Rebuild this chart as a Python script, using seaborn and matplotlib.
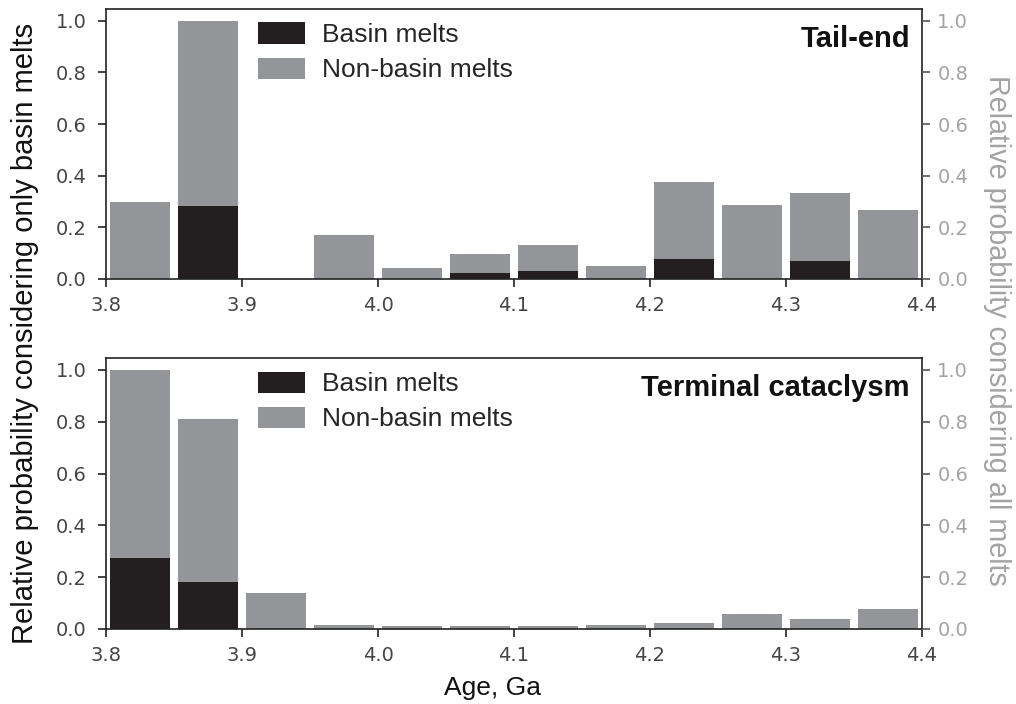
import matplotlib
matplotlib.use("Agg")
import matplotlib.pyplot as plt
import seaborn as sns
import pandas as pd
from matplotlib.patches import Patch

# ---- data ----
ages = [3.825, 3.875, 3.925, 3.975, 4.025, 4.075, 4.125, 4.175, 4.225, 4.275, 4.325, 4.375]
tail_all = [0.30, 1.00, 0.0, 0.172, 0.043, 0.097, 0.130, 0.049, 0.375, 0.286, 0.335, 0.267]
tail_basin = [0.0, 0.281, 0.0, 0.0, 0.0, 0.022, 0.030, 0.0, 0.077, 0.0, 0.068, 0.0]
term_all = [1.00, 0.811, 0.139, 0.017, 0.010, 0.010, 0.010, 0.017, 0.024, 0.058, 0.037, 0.078]
term_basin = [0.275, 0.180, 0.0, 0.0, 0.0, 0.0, 0.0, 0.0, 0.0, 0.0, 0.0, 0.0]
panel_titles = ["Tail-end", "Terminal cataclysm"]
legend_labels = ["Basin melts", "Non-basin melts"]
xticks = [3.8, 3.9, 4.0, 4.1, 4.2, 4.3, 4.4]
yticks = [0.0, 0.2, 0.4, 0.6, 0.8, 1.0]

sns.set_theme(style="ticks")
plt.rcParams["font.family"] = ["DejaVu Sans"]
SANS = "Liberation Sans"

GRAY = "#939598"
BLACK = "#231f20"
TICKC = "#454545"
RTICKC = "#a3a3a3"

fig = plt.figure(figsize=(10.16, 7.04), dpi=100)
left = 106 / 1016
width = (922 - 106) / 1016
ax_top = fig.add_axes([left, 1 - 279 / 704, width, (279 - 9) / 704])
ax_bot = fig.add_axes([left, 1 - 629 / 704, width, (629 - 358) / 704])

panels = [(ax_top, tail_all, tail_basin, panel_titles[0]),
          (ax_bot, term_all, term_basin, panel_titles[1])]

for ax, allv, basv, title in panels:
    df = pd.DataFrame({"age": ages, "all": allv, "basin": basv})
    sns.barplot(data=df, x="age", y="all", native_scale=True, width=0.89,
                color=GRAY, saturation=1, errorbar=None, ax=ax, linewidth=0)
    sns.barplot(data=df, x="age", y="basin", native_scale=True, width=0.89,
                color=BLACK, saturation=1, errorbar=None, ax=ax, linewidth=0)
    ax.set_xlim(3.8, 4.4)
    ax.set_ylim(0, 1.046)
    ax.set_xticks(xticks)
    ax.set_xticklabels([f"{t:.1f}" for t in xticks])
    ax.set_yticks(yticks)
    ax.set_yticklabels([f"{t:.1f}" for t in yticks])
    ax.set_xlabel("")
    ax.set_ylabel("")
    ax.tick_params(axis="both", direction="out", length=6, width=1.2,
                   labelsize=14, labelcolor=TICKC, color="#222222", pad=6)
    ax.tick_params(axis="y", pad=8)
    for s in ax.spines.values():
        s.set_visible(True)
        s.set_color("#222222")
        s.set_linewidth(1.2)

    ax2 = ax.twinx()
    ax2.set_ylim(0, 1.046)
    ax2.set_yticks(yticks)
    ax2.set_yticklabels([f"{t:.1f}" for t in yticks])
    ax2.tick_params(axis="y", direction="out", length=6, width=1.2,
                    labelsize=14, labelcolor=RTICKC, color="#555555", pad=5)
    for s in ax2.spines.values():
        s.set_visible(False)

    ax.text(0.985, 0.94, title, transform=ax.transAxes, ha="right", va="top",
            fontsize=21, fontweight="bold", color="#111111", family=SANS)

    handles = [Patch(facecolor=BLACK, edgecolor="none"),
               Patch(facecolor=GRAY, edgecolor="none")]
    ax.legend(handles, legend_labels, loc="upper left",
              bbox_to_anchor=(0.186, 0.95), frameon=False,
              prop={"family": SANS, "size": 19},
              handlelength=1.8, handleheight=0.85, handletextpad=0.65,
              labelspacing=0.4, borderpad=0, borderaxespad=0)

fig.text(0.0246, 1 - 333 / 704, "Relative probability considering only basin melts",
         rotation=90, ha="center", va="center", fontsize=21, color="#111111", family=SANS)
fig.text(0.981, 1 - 330 / 704, "Relative probability considering all melts",
         rotation=-90, ha="center", va="center", fontsize=20.7, color=RTICKC, family=SANS)
fig.text(493 / 1016, 1 - 688 / 704, "Age, Ga", ha="center", va="center",
         fontsize=19, color="#111111", family=SANS)

fig.savefig("out.png", dpi=100)
